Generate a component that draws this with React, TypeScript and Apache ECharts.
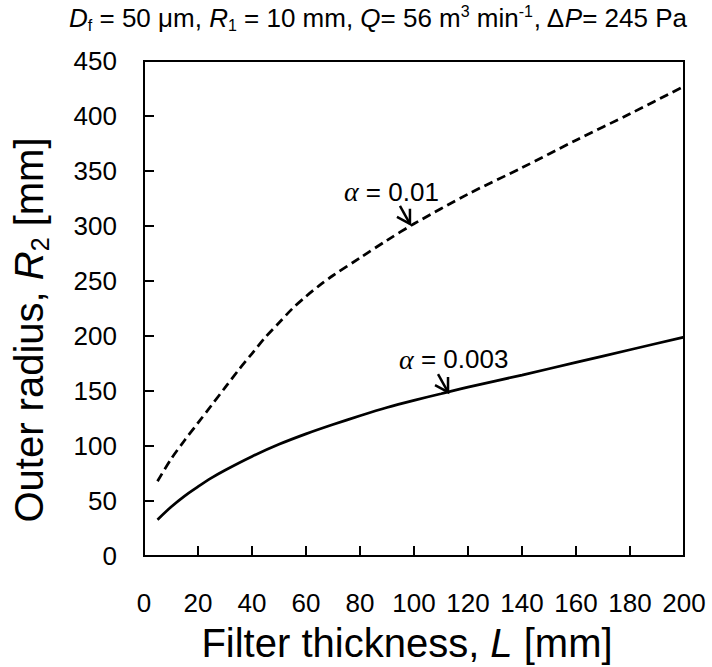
import React, { useEffect, useRef } from "react";
import * as echarts from "echarts";

const FONT = '"Liberation Sans", Arial, Helvetica, sans-serif';
const SERIF = '"Liberation Serif", "Times New Roman", serif';

// axis ranges / tick labels
const X_MIN = 0;
const X_MAX = 200;
const X_STEP = 20;
const Y_MIN = 0;
const Y_MAX = 450;
const Y_STEP = 50;

// alpha = 0.01 (dashed)
const thicknessA = [5, 10, 15, 20, 25, 30, 35, 40, 45, 50, 55, 60, 65, 70, 80, 90, 100, 120, 140, 160, 180, 200];
const radiusA = [68, 88, 105, 121, 137, 153, 169, 184, 199, 212, 225, 236, 246, 255, 271, 287, 302, 329, 353, 378, 402, 427];

// alpha = 0.003 (solid)
const thicknessB = [5, 10, 15, 20, 25, 30, 40, 50, 60, 70, 80, 90, 100, 110, 120, 140, 160, 180, 200];
const radiusB = [33, 44.5, 54.5, 63, 71, 78, 90.5, 101.5, 111, 119.5, 127.5, 135, 141.5, 147.5, 153.5, 164.5, 176, 187.5, 199];

// annotation labels and the data points their arrows point at
const annotationLabels = ["0.01", "0.003"];
const annotationX = [98.5, 112.6];
const annotationY = [302, 149];

const zip = (xs: number[], ys: number[]) => xs.map((x, i) => [x, ys[i]]);

export default function App() {
  const ref = useRef<HTMLDivElement>(null);

  useEffect(() => {
    document.body.style.margin = "0";
    if (!ref.current) return;
    const chart = echarts.init(ref.current, undefined, { renderer: "svg" });

    const axisCommon = {
      type: "value" as const,
      axisLine: { show: true, onZero: false, lineStyle: { color: "#000", width: 2 } },
      axisTick: { show: true, inside: true, length: 10, lineStyle: { color: "#000", width: 2 } },
      splitLine: { show: false },
    };

    chart.setOption({
      animation: false,
      backgroundColor: "#fff",
      grid: {
        left: 144,
        right: 28,
        top: 61,
        bottom: 111,
        show: true,
        borderColor: "#000",
        borderWidth: 2,
        outerBoundsMode: "none",
      },
      xAxis: {
        ...axisCommon,
        min: X_MIN,
        max: X_MAX,
        interval: X_STEP,
        axisLabel: { color: "#000", fontSize: 26, fontFamily: FONT, margin: 34 },
      },
      yAxis: {
        ...axisCommon,
        min: Y_MIN,
        max: Y_MAX,
        interval: Y_STEP,
        axisLabel: { color: "#000", fontSize: 26, fontFamily: FONT, margin: 27 },
      },
      series: [
        {
          name: "α = 0.01",
          type: "line",
          data: zip(thicknessA, radiusA),
          showSymbol: false,
          symbol: "none",
          smooth: 0.3,
          lineStyle: { color: "#000", width: 2.75, type: [9, 5] },
        },
        {
          name: "α = 0.003",
          type: "line",
          data: zip(thicknessB, radiusB),
          showSymbol: false,
          symbol: "none",
          smooth: 0.3,
          lineStyle: { color: "#000", width: 2.75, type: "solid" },
        },
      ],
    });

    const labelOffsets = [
      [-66, -32],
      [-49, -33],
    ];

    const graphics: any[] = [
      {
        type: "text",
        x: 378,
        y: 18,
        style: {
          text:
            "{i|D}{sub|f}{n| = 50 μm, }{i|R}{sub|1}{n| = 10 mm, }{i|Q}{n|= 56 m}{sup|3}{n| min}{sup|-1}{n|, Δ}{i|P}{n|= 245 Pa}",
          align: "center",
          verticalAlign: "middle",
          fill: "#000",
          rich: {
            n: { fontSize: 26, fontFamily: FONT, lineHeight: 30, fill: "#000" },
            i: { fontSize: 26, fontFamily: FONT, fontStyle: "italic", lineHeight: 30, fill: "#000" },
            sub: { fontSize: 16, fontFamily: FONT, lineHeight: 16, verticalAlign: "bottom", fill: "#000" },
            sup: { fontSize: 16, fontFamily: FONT, lineHeight: 16, verticalAlign: "top", fill: "#000" },
          },
        },
      },
      {
        type: "text",
        x: 407,
        y: 643,
        style: {
          text: "{n|Filter thickness, }{i|L}{n| [mm]}",
          align: "center",
          verticalAlign: "middle",
          fill: "#000",
          rich: {
            n: { fontSize: 40, fontFamily: FONT, fill: "#000" },
            i: { fontSize: 40, fontFamily: FONT, fontStyle: "italic", fill: "#000" },
          },
        },
      },
      {
        type: "text",
        x: 29,
        y: 330,
        rotation: Math.PI / 2,
        style: {
          text: "{n|Outer radius, }{i|R}{sub|2}{n| [mm]}",
          align: "center",
          verticalAlign: "middle",
          fill: "#000",
          rich: {
            n: { fontSize: 40, fontFamily: FONT, lineHeight: 46, fill: "#000" },
            i: { fontSize: 40, fontFamily: FONT, fontStyle: "italic", lineHeight: 46, fill: "#000" },
            sub: { fontSize: 25, fontFamily: FONT, lineHeight: 25, verticalAlign: "bottom", fill: "#000" },
          },
        },
      },
    ];

    annotationLabels.forEach((label, k) => {
      const p = chart.convertToPixel({ gridIndex: 0 }, [annotationX[k], annotationY[k]]) as number[];
      const [tx, ty] = p;
      graphics.push({
        type: "line",
        shape: { x1: tx - 10, y1: ty - 18, x2: tx, y2: ty },
        style: { stroke: "#000", lineWidth: 2.5 },
      });
      graphics.push({
        type: "polyline",
        shape: { points: [[tx, ty - 15], [tx, ty], [tx - 13, ty - 7]] },
        style: { stroke: "#000", lineWidth: 2.5, fill: "none" },
      });
      graphics.push({
        type: "text",
        x: tx + labelOffsets[k][0],
        y: ty + labelOffsets[k][1],
        style: {
          text: `{a|α}{b| = ${label}}`,
          align: "left",
          verticalAlign: "middle",
          fill: "#000",
          rich: {
            a: { fontSize: 28, fontFamily: SERIF, fontStyle: "italic", fill: "#000" },
            b: { fontSize: 26, fontFamily: FONT, fill: "#000" },
          },
        },
      });
    });

    chart.setOption({ graphic: graphics });

    return () => {
      chart.dispose();
    };
  }, []);

  return <div ref={ref} style={{ width: 712, height: 667 }} />;
}
